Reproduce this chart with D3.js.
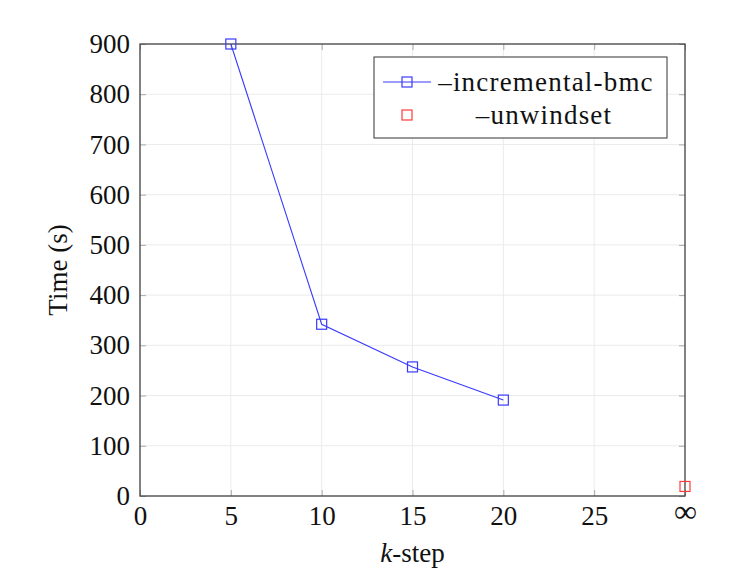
<!DOCTYPE html>
<html><head><meta charset="utf-8">
<script src="https://cdn.jsdelivr.net/npm/d3@7"></script>
<style>body{margin:0;background:#fff}svg{display:block}text{font-family:"Liberation Serif","DejaVu Serif",serif;fill:#111}</style>
</head><body>
<script>
const kSteps = [5, 10, 15, 20];
const incrementalTimes = [900, 342, 257, 191];
const unwindX = [30];
const unwindTimes = [19];
const xTicks = [0, 5, 10, 15, 20, 25, 30];
const xTickLabels = ["0", "5", "10", "15", "20", "25", "∞"];
const yTicks = [0, 100, 200, 300, 400, 500, 600, 700, 800, 900];
const seriesNames = ["–incremental-bmc", "–unwindset"];

const W = 742, H = 583;
const FS = "27px";
const m = {left: 140, right: 57, top: 44, bottom: 87};
const svg = d3.select("body").append("svg").attr("width", W).attr("height", H);
const x = d3.scaleLinear().domain([0, 30]).range([m.left, W - m.right]);
const y = d3.scaleLinear().domain([0, 900]).range([H - m.bottom, m.top]);

// grid
const g = svg.append("g");
g.selectAll(".gx").data(xTicks).join("line")
  .attr("x1", d => x(d)).attr("x2", d => x(d)).attr("y1", y(0)).attr("y2", y(900))
  .attr("stroke", "#ebebeb").attr("stroke-width", 1);
g.selectAll(".gy").data(yTicks).join("line")
  .attr("x1", x(0)).attr("x2", x(30)).attr("y1", d => y(d)).attr("y2", d => y(d))
  .attr("stroke", "#ebebeb").attr("stroke-width", 1);

// axes
const xAxis = d3.axisBottom(x).tickValues(xTicks).tickFormat((d, i) => xTickLabels[i]).tickSizeInner(-6).tickSizeOuter(0).tickPadding(10);
const yAxis = d3.axisLeft(y).tickValues(yTicks).tickSizeInner(-6).tickSizeOuter(0).tickPadding(10);
const gx = svg.append("g").attr("transform", `translate(0,${y(0)})`).call(xAxis);
const gy = svg.append("g").attr("transform", `translate(${x(0)},0)`).call(yAxis);
[gx, gy].forEach(a => {
  a.select(".domain").remove();
  a.selectAll(".tick line").attr("stroke", "#aaa");
  a.selectAll(".tick text").style("font-size", FS).attr("fill", "#111");
});
gx.selectAll(".tick text").attr("dy", "0.72em");
gx.selectAll(".tick text").filter((d, i) => i === xTicks.length - 1).style("font-size", "32px").attr("dy", "0.5em");
// opposite-side ticks
svg.append("g").attr("transform", `translate(0,${y(900)})`)
  .call(d3.axisTop(x).tickValues(xTicks).tickSizeInner(-6).tickSizeOuter(0).tickFormat(""))
  .call(a => { a.select(".domain").remove(); a.selectAll("line").attr("stroke", "#aaa"); });
svg.append("g").attr("transform", `translate(${x(30)},0)`)
  .call(d3.axisRight(y).tickValues(yTicks).tickSizeInner(-6).tickSizeOuter(0).tickFormat(""))
  .call(a => { a.select(".domain").remove(); a.selectAll("line").attr("stroke", "#aaa"); });

// frame
svg.append("rect").attr("x", x(0)).attr("y", y(900)).attr("width", x(30) - x(0)).attr("height", y(0) - y(900))
  .attr("fill", "none").attr("stroke", "#444").attr("stroke-width", 1.3);

// series
const blue = "#3a3aff", red = "#ff3a3a";
const pts = kSteps.map((k, i) => [k, incrementalTimes[i]]);
svg.append("path").datum(pts)
  .attr("d", d3.line().x(d => x(d[0])).y(d => y(d[1])))
  .attr("fill", "none").attr("stroke", blue).attr("stroke-width", 1.1);
const s = 10;
svg.selectAll(".mb").data(pts).join("rect")
  .attr("x", d => x(d[0]) - s / 2).attr("y", d => y(d[1]) - s / 2).attr("width", s).attr("height", s)
  .attr("fill", "none").attr("stroke", blue).attr("stroke-width", 1.2);
const rpts = unwindX.map((k, i) => [k, unwindTimes[i]]);
svg.selectAll(".mr").data(rpts).join("rect")
  .attr("x", d => x(d[0]) - s / 2).attr("y", d => y(d[1]) - s / 2).attr("width", s).attr("height", s)
  .attr("fill", "none").attr("stroke", red).attr("stroke-width", 1.2);

// legend
const lg = svg.append("g");
lg.append("rect").attr("x", 374).attr("y", 57).attr("width", 293).attr("height", 81)
  .attr("fill", "#fff").attr("stroke", "#333").attr("stroke-width", 1);
lg.append("line").attr("x1", 383).attr("x2", 431).attr("y1", 82).attr("y2", 82).attr("stroke", blue).attr("stroke-width", 1.1);
lg.append("rect").attr("x", 402).attr("y", 77).attr("width", s).attr("height", s).attr("fill", "none").attr("stroke", blue).attr("stroke-width", 1.2);
lg.append("rect").attr("x", 402).attr("y", 110).attr("width", s).attr("height", s).attr("fill", "none").attr("stroke", red).attr("stroke-width", 1.2);
lg.append("text").attr("x", 546).attr("y", 82).attr("dy", "0.33em").attr("text-anchor", "middle").style("font-size", FS).style("letter-spacing", "1.2px").text(seriesNames[0]);
lg.append("text").attr("x", 544).attr("y", 115).attr("dy", "0.33em").attr("text-anchor", "middle").style("font-size", FS).style("letter-spacing", "1.2px").text(seriesNames[1]);

// axis titles
svg.append("text").attr("transform", `translate(58,${(y(0) + y(900)) / 2}) rotate(-90)`)
  .attr("text-anchor", "middle").attr("dy", "0.35em").style("font-size", FS).text("Time (s)");
const xt = svg.append("text").attr("x", (x(0) + x(30)) / 2).attr("y", 553).attr("text-anchor", "middle").attr("dy", "0.35em").style("font-size", FS);
xt.append("tspan").style("font-style", "italic").text("k");
xt.append("tspan").text("-step");
</script>
</body></html>
